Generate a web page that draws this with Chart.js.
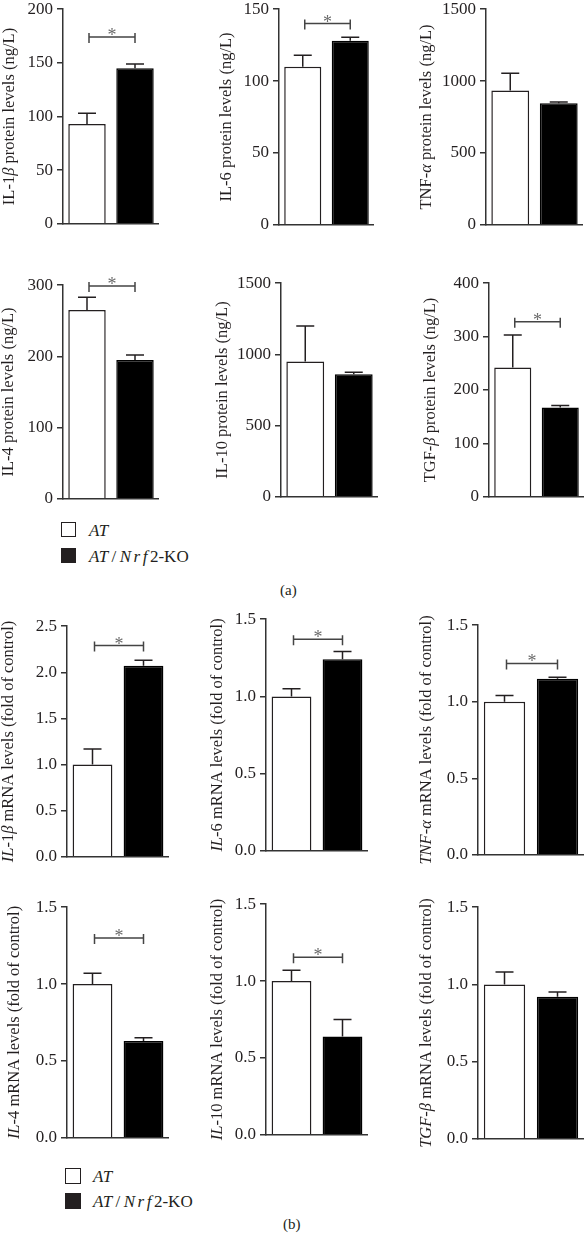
<!DOCTYPE html>
<html>
<head>
<meta charset="utf-8">
<script src="https://cdn.jsdelivr.net/npm/chart.js@4.4.1/dist/chart.umd.min.js"></script>
<style>
  html, body { margin: 0; padding: 0; background: #fff; }
  body { width: 584px; height: 1241px; position: relative; overflow: hidden; font-family: "Liberation Serif", serif; color: #231f20; }
  canvas { position: absolute; }
  .leg { position: absolute; font-size: 17px; line-height: 17px; }
  .sw { position: absolute; border: 1.5px solid #231f20; box-sizing: border-box; }
  .lab { position: absolute; font-size: 15px; }
  i { font-style: italic; }
  .sp { letter-spacing: 2.5px; }
</style>
</head>
<body>
<div class="sw" style="left:61px;top:522px;background:#fff;width:15px;height:15px;"></div>
<div class="leg" style="left:89px;top:522px;"><i>AT</i></div>
<div class="sw" style="left:61px;top:548px;background:#231f20;width:15px;height:15px;"></div>
<div class="leg" style="left:89px;top:548px;"><i>AT</i>&#8201;/&#8201;<i class="sp">Nrf</i>2-KO</div>
<div class="lab" style="left:280px;top:582px;">(a)</div>

<div class="sw" style="left:65px;top:1168px;background:#fff;width:16px;height:16px;"></div>
<div class="leg" style="left:93px;top:1168px;"><i>AT</i></div>
<div class="sw" style="left:65px;top:1193px;background:#231f20;width:16px;height:16px;"></div>
<div class="leg" style="left:93px;top:1193px;"><i>AT</i>&#8201;/&#8201;<i class="sp">Nrf</i>2-KO</div>
<div class="lab" style="left:283px;top:1216px;">(b)</div>

<script>
// ---- Data ----
const groups = ['AT', 'AT/Nrf2-KO'];

// (a) protein levels, ng/L
const il1bProtein = [93, 145];   const il1bProteinSem = [10, 4];
const il6Protein  = [110, 128];  const il6ProteinSem  = [8, 2.5];
const tnfProtein  = [935, 845];  const tnfProteinSem  = [120, 10];
const il4Protein  = [265, 195];  const il4ProteinSem  = [18, 7];
const il10Protein = [950, 860];  const il10ProteinSem = [250, 15];
const tgfProtein  = [242, 167];  const tgfProteinSem  = [61, 4];

// (b) mRNA levels, fold of control
const il1bMrna = [1.0, 2.07];  const il1bMrnaSem = [0.17, 0.06];
const il6Mrna  = [1.0, 1.24];  const il6MrnaSem  = [0.05, 0.05];
const tnfMrna  = [1.0, 1.15];  const tnfMrnaSem  = [0.04, 0.01];
const il4Mrna  = [1.0, 0.63];  const il4MrnaSem  = [0.07, 0.02];
const il10Mrna = [1.0, 0.64];  const il10MrnaSem = [0.07, 0.11];
const tgfMrna  = [1.0, 0.92];  const tgfMrnaSem  = [0.08, 0.03];

// significance bracket levels (null = none)
const sigProtein = [174, 140, null, 299, null, 328];
const sigMrna    = [2.29, 1.37, 1.25, 1.30, 1.155, null];

// axis ranges
const proteinMax  = [200, 150, 1500, 300, 1500, 400];
const proteinStep = [50, 50, 500, 100, 500, 100];
const mrnaMax  = [2.5, 1.5, 1.5, 1.5, 1.5, 1.5];
const mrnaStep = [0.5, 0.5, 0.5, 0.5, 0.5, 0.5];

// axis titles: [text, italic?]
const proteinTitles = [
  [['IL-1', 0], ['β', 1], [' protein levels (ng/L)', 0]],
  [['IL-6 protein levels (ng/L)', 0]],
  [['TNF-', 0], ['α', 1], [' protein levels (ng/L)', 0]],
  [['IL-4 protein levels (ng/L)', 0]],
  [['IL-10 protein levels (ng/L)', 0]],
  [['TGF-', 0], ['β', 1], [' protein levels (ng/L)', 0]]
];
const mrnaTitles = [
  [['IL', 1], ['-1', 0], ['β', 1], [' mRNA levels (fold of control)', 0]],
  [['IL', 1], ['-6 mRNA levels (fold of control)', 0]],
  [['TNF', 1], ['-', 0], ['α', 1], [' mRNA levels (fold of control)', 0]],
  [['IL', 1], ['-4 mRNA levels (fold of control)', 0]],
  [['IL', 1], ['-10 mRNA levels (fold of control)', 0]],
  [['TGF', 1], ['-', 0], ['β', 1], [' mRNA levels (fold of control)', 0]]
];

// ---- Layout (pixel placement of each panel) ----
const layout = [
  {ax: 63.3,  top: 7,     zero: 226,    right: 159,   toff: 53},
  {ax: 279.3, top: 7,     zero: 226.7,  right: 374,   toff: 52},
  {ax: 485.7, top: 7,     zero: 226.7,  right: 583,   toff: 59},
  {ax: 63.3,  top: 282.7, zero: 500.7,  right: 159,   toff: 54},
  {ax: 281,   top: 280.7, zero: 498.7,  right: 378,   toff: 58},
  {ax: 488.7, top: 280.7, zero: 498.7,  right: 584,   toff: 58},
  {ax: 66.7,  top: 624,   zero: 859,    right: 168.7, toff: 58},
  {ax: 266,   top: 616.7, zero: 852.7,  right: 368.3, toff: 48},
  {ax: 478.3, top: 623.3, zero: 857.3,  right: 584,   toff: 51},
  {ax: 66.7,  top: 905.3, zero: 1140.7, right: 168.7, toff: 52},
  {ax: 266,   top: 901.7, zero: 1137,   right: 368.3, toff: 48},
  {ax: 478.3, top: 905,   zero: 1141,   right: 584,   toff: 51}
];

const panels = [
  {v: il1bProtein, e: il1bProteinSem, sig: sigProtein[0], max: proteinMax[0], step: proteinStep[0], title: proteinTitles[0], dec: 0},
  {v: il6Protein,  e: il6ProteinSem,  sig: sigProtein[1], max: proteinMax[1], step: proteinStep[1], title: proteinTitles[1], dec: 0},
  {v: tnfProtein,  e: tnfProteinSem,  sig: sigProtein[2], max: proteinMax[2], step: proteinStep[2], title: proteinTitles[2], dec: 0},
  {v: il4Protein,  e: il4ProteinSem,  sig: sigProtein[3], max: proteinMax[3], step: proteinStep[3], title: proteinTitles[3], dec: 0},
  {v: il10Protein, e: il10ProteinSem, sig: sigProtein[4], max: proteinMax[4], step: proteinStep[4], title: proteinTitles[4], dec: 0},
  {v: tgfProtein,  e: tgfProteinSem,  sig: sigProtein[5], max: proteinMax[5], step: proteinStep[5], title: proteinTitles[5], dec: 0},
  {v: il1bMrna, e: il1bMrnaSem, sig: sigMrna[0], max: mrnaMax[0], step: mrnaStep[0], title: mrnaTitles[0], dec: 1},
  {v: il6Mrna,  e: il6MrnaSem,  sig: sigMrna[1], max: mrnaMax[1], step: mrnaStep[1], title: mrnaTitles[1], dec: 1},
  {v: tnfMrna,  e: tnfMrnaSem,  sig: sigMrna[2], max: mrnaMax[2], step: mrnaStep[2], title: mrnaTitles[2], dec: 1},
  {v: il4Mrna,  e: il4MrnaSem,  sig: sigMrna[3], max: mrnaMax[3], step: mrnaStep[3], title: mrnaTitles[3], dec: 1},
  {v: il10Mrna, e: il10MrnaSem, sig: sigMrna[4], max: mrnaMax[4], step: mrnaStep[4], title: mrnaTitles[4], dec: 1},
  {v: tgfMrna,  e: tgfMrnaSem,  sig: sigMrna[5], max: mrnaMax[5], step: mrnaStep[5], title: mrnaTitles[5], dec: 1}
];

const FONT = '"Liberation Serif", serif';
const INK = '#231f20';
const YW = 70, PADT = 12, PADB = 12;
const TITLE_SIZE = 16.5;

function makeOverlay(p, L) {
  return {
    id: 'overlay',
    afterDatasetsDraw(chart) {
      const ctx = chart.ctx;
      const ys = chart.scales.y;
      const bars = chart.getDatasetMeta(0).data;
      const vals = chart.data.datasets[0].data;
      ctx.save();
      ctx.strokeStyle = INK;
      ctx.lineWidth = 1.5;
      bars.forEach((bar, i) => {
        const yTop = ys.getPixelForValue(vals[i]);
        const yErr = ys.getPixelForValue(vals[i] + p.e[i]);
        ctx.beginPath();
        ctx.moveTo(bar.x, yTop);
        ctx.lineTo(bar.x, yErr);
        ctx.moveTo(bar.x - 9, yErr);
        ctx.lineTo(bar.x + 9, yErr);
        ctx.stroke();
      });
      if (p.sig !== null) {
        const y = ys.getPixelForValue(p.sig);
        const x1 = bars[0].x + 2, x2 = bars[1].x;
        ctx.strokeStyle = '#444';
        ctx.beginPath();
        ctx.moveTo(x1, y); ctx.lineTo(x2, y);
        ctx.moveTo(x1, y - 4); ctx.lineTo(x1, y + 6);
        ctx.moveTo(x2, y - 4); ctx.lineTo(x2, y + 6);
        ctx.stroke();
        ctx.fillStyle = '#6a6a6a';
        ctx.font = '18px ' + FONT;
        ctx.textAlign = 'center';
        ctx.textBaseline = 'alphabetic';
        ctx.fillText('*', (x1 + x2) / 2, y + 4);
      }
      // rotated y-axis title with mixed styles
      const cx = chart.chartArea.left - L.toff;
      const cy = (chart.chartArea.top + chart.chartArea.bottom) / 2;
      ctx.translate(cx, cy);
      ctx.rotate(-Math.PI / 2);
      ctx.fillStyle = INK;
      ctx.textBaseline = 'middle';
      ctx.textAlign = 'left';
      let total = 0;
      const widths = p.title.map(([t, it]) => {
        ctx.font = (it ? 'italic ' : '') + TITLE_SIZE + 'px ' + FONT;
        const w = ctx.measureText(t).width;
        total += w;
        return w;
      });
      let x = -total / 2;
      p.title.forEach(([t, it], k) => {
        ctx.font = (it ? 'italic ' : '') + TITLE_SIZE + 'px ' + FONT;
        ctx.fillText(t, x, 0);
        x += widths[k];
      });
      ctx.restore();
    }
  };
}

panels.forEach((p, idx) => {
  const L = layout[idx];
  const left = L.ax - YW;
  const top = L.top - PADT;
  const w = L.right - left;
  const h = (L.zero - L.top) + PADT + PADB;
  const cv = document.createElement('canvas');
  cv.width = Math.round(w);
  cv.height = Math.round(h);
  cv.style.left = left + 'px';
  cv.style.top = top + 'px';
  cv.style.width = Math.round(w) + 'px';
  cv.style.height = Math.round(h) + 'px';
  document.body.appendChild(cv);

  new Chart(cv, {
    type: 'bar',
    data: {
      labels: groups,
      datasets: [{
        data: p.v,
        backgroundColor: ['#ffffff', '#000000'],
        borderColor: [INK, '#000000'],
        borderWidth: 1.5,
        borderSkipped: 'bottom',
        barPercentage: 0.78,
        categoryPercentage: 1.0
      }]
    },
    options: {
      responsive: false,
      animation: false,
      devicePixelRatio: 1,
      layout: { padding: { top: PADT, bottom: PADB, left: 0, right: 0 } },
      plugins: { legend: { display: false }, tooltip: { enabled: false }, title: { display: false } },
      scales: {
        x: {
          display: true,
          offset: true,
          grid: { display: false, drawTicks: false },
          border: { display: true, color: '#333', width: 1.5 },
          ticks: { display: false },
          afterFit(s) { s.height = 0; }
        },
        y: {
          min: 0,
          max: p.max,
          grid: { display: true, drawOnChartArea: false, drawTicks: true, tickLength: 6, color: '#333', lineWidth: 1.5 },
          border: { display: true, color: '#333', width: 1.5 },
          ticks: {
            stepSize: p.step,
            padding: 4,
            color: INK,
            font: { family: FONT, size: 17 },
            callback: (v) => Number(v).toFixed(p.dec)
          },
          afterFit(s) { s.width = YW; }
        }
      }
    },
    plugins: [makeOverlay(p, L)]
  });
});
</script>
</body>
</html>
